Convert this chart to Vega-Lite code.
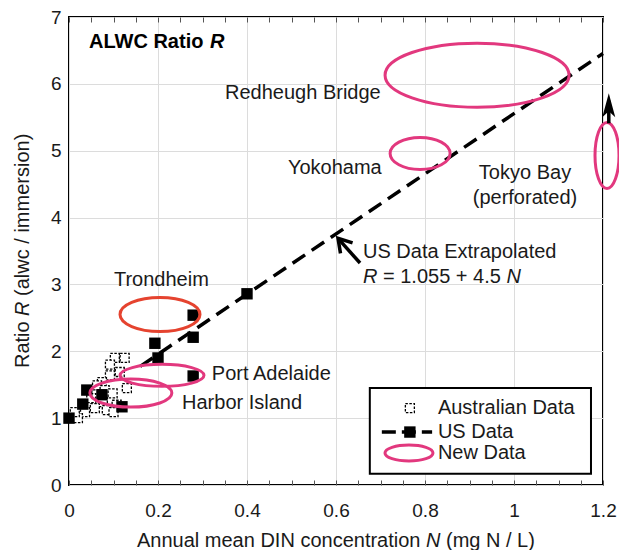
{
  "$schema": "https://vega.github.io/schema/vega-lite/v6.json",
  "width": 534,
  "height": 468,
  "autosize": {"type": "none"},
  "padding": {"left": 69, "top": 17, "right": 16, "bottom": 65},
  "background": "white",
  "config": {
    "view": {"stroke": "black", "strokeWidth": 2},
    "font": "Liberation Sans",
    "text": {"font": "Liberation Sans", "fontSize": 20, "color": "#1a1a1a"},
    "axis": {"labelFont": "Liberation Sans", "titleFont": "Liberation Sans", "labelColor": "#1a1a1a", "titleColor": "#1a1a1a", "titleFontWeight": "normal", "gridColor": "#dcdcdc", "gridWidth": 1}
  },
  "datasets": {
    "fit": [{"N": 0.16, "R": 1.775}, {"N": 1.2, "R": 6.455}],
    "aus": [
      {"N": 0.103, "R": 1.9}, {"N": 0.125, "R": 1.9}, {"N": 0.092, "R": 1.8}, {"N": 0.114, "R": 1.69},
      {"N": 0.092, "R": 1.64}, {"N": 0.074, "R": 1.54}, {"N": 0.063, "R": 1.49}, {"N": 0.13, "R": 1.45},
      {"N": 0.08, "R": 1.42}, {"N": 0.098, "R": 1.37}, {"N": 0.05, "R": 1.3}, {"N": 0.076, "R": 1.24},
      {"N": 0.107, "R": 1.2}, {"N": 0.058, "R": 1.15}, {"N": 0.085, "R": 1.12}, {"N": 0.036, "R": 1.09},
      {"N": 0.02, "R": 1.0}, {"N": 0.1, "R": 1.09}, {"N": 0.013, "R": 1.09}
    ],
    "us": [
      {"N": 0.0, "R": 1.0}, {"N": 0.031, "R": 1.21}, {"N": 0.04, "R": 1.42}, {"N": 0.074, "R": 1.35},
      {"N": 0.119, "R": 1.17}, {"N": 0.193, "R": 2.12}, {"N": 0.2, "R": 1.9}, {"N": 0.279, "R": 2.54},
      {"N": 0.279, "R": 2.21}, {"N": 0.279, "R": 1.63}, {"N": 0.4, "R": 2.86}
    ],
    "sites": [
      {"site": "Redheugh Bridge", "N": 0.917, "R": 6.13},
      {"site": "Yokohama", "N": 0.789, "R": 4.96},
      {"site": "Tokyo Bay", "N": 1.209, "R": 4.93},
      {"site": "Trondheim", "N": 0.2045, "R": 2.55},
      {"site": "Port Adelaide", "N": 0.209, "R": 1.64},
      {"site": "Harbor Island", "N": 0.139, "R": 1.375}
    ],
    "arrows": [
      {"N": 0.654, "R": 3.32, "N2": 0.607, "R2": 3.67},
      {"N": 1.213, "R": 5.41, "N2": 1.213, "R2": 5.75}
    ],
    "head1": [{"N": 0.6045, "R": 3.69}],
    "head2": [{"N": 1.213, "R": 5.86}],
    "labels": [
      {"t": "Redheugh Bridge", "N": 0.3506, "R": 5.86},
      {"t": "Yokohama", "N": 0.492, "R": 4.74},
      {"t": "US Data Extrapolated", "N": 0.6607, "R": 3.48},
      {"t": "= 1.055 + 4.5", "N": 0.7056, "R": 3.11},
      {"t": "Trondheim", "N": 0.101, "R": 3.06},
      {"t": "Port Adelaide", "N": 0.321, "R": 1.66},
      {"t": "Harbor Island", "N": 0.254, "R": 1.23},
      {"t": "Annual mean DIN concentration", "N": 0.1528, "R": -0.84},
      {"t": "(mg N / L)", "N": 0.8472, "R": -0.84}
    ],
    "centered": [
      {"t": "Tokyo Bay", "N": 1.0247, "R": 4.66},
      {"t": "(perforated)", "N": 1.0247, "R": 4.29}
    ],
    "italic": [
      {"t": "R", "N": 0.6607, "R": 3.11},
      {"t": "N", "N": 0.9829, "R": 3.11},
      {"t": "N", "N": 0.8022, "R": -0.84}
    ],
    "ytitle": [
      {"t": "Ratio", "N": -0.1034, "R": 1.749},
      {"t": "(alwc / immersion)", "N": -0.1034, "R": 2.828}
    ],
    "ytitleItalic": [
      {"t": "R", "N": -0.1034, "R": 2.529}
    ],
    "title": [{"t": "ALWC Ratio", "N": 0.0449, "R": 6.62}],
    "titleR": [{"t": "R", "N": 0.3169, "R": 6.62}],
    "legendBox": [{"N": 0.676, "N2": 1.173, "R": 0.17, "R2": 1.45}],
    "legAus": [{"N": 0.766, "R": 1.151}],
    "legUsLine": [{"N": 0.703, "N2": 0.816, "R": 0.792}],
    "legUsSq": [{"N": 0.766, "R": 0.792}],
    "legNew": [{"N": 0.764, "R": 0.478}],
    "legText": [
      {"t": "Australian Data", "N": 0.829, "R": 1.151},
      {"t": "US Data", "N": 0.829, "R": 0.792},
      {"t": "New Data", "N": 0.829, "R": 0.478}
    ]
  },
  "resolve": {"axis": {"x": "independent", "y": "independent"}},
  "layer": [
    {
      "data": {"name": "fit"},
      "mark": {"type": "line", "color": "black", "strokeWidth": 3.5, "strokeDash": [15, 8]},
      "encoding": {
        "x": {
          "field": "N", "type": "quantitative",
          "scale": {"domain": [0, 1.2], "nice": false, "zero": false},
          "axis": {
            "values": [0, 0.05, 0.1, 0.15, 0.2, 0.25, 0.3, 0.35, 0.4, 0.45, 0.5, 0.55, 0.6, 0.65, 0.7, 0.75, 0.8, 0.85, 0.9, 0.95, 1, 1.05, 1.1, 1.15, 1.2],
            "labelExpr": "abs(datum.value*5 - round(datum.value*5)) < 0.001 ? format(datum.value, '~g') : ''",
            "gridOpacity": {"condition": {"test": "abs(datum.value*5 - round(datum.value*5)) < 0.001", "value": 1}, "value": 0},
            "domain": false,
            "ticks": true, "tickSize": -5, "tickColor": "#555", "tickWidth": 1,
            "labelPadding": 21, "labelFontSize": 19, "labelFlush": false,
            "title": null
          }
        },
        "y": {
          "field": "R", "type": "quantitative",
          "scale": {"domain": [0, 7], "nice": false, "zero": false},
          "axis": {
            "values": [0, 1, 2, 3, 4, 5, 6, 7],
            "domain": false, "ticks": false,
            "labelPadding": 8, "labelFontSize": 19, "labelFlush": false,
            "title": null
          }
        }
      }
    },
    {
      "data": {"name": "fit"},
      "mark": {"type": "line", "opacity": 0},
      "encoding": {
        "x": {
          "field": "N", "type": "quantitative",
          "axis": {
            "orient": "top",
            "values": [0, 0.05, 0.1, 0.15, 0.2, 0.25, 0.3, 0.35, 0.4, 0.45, 0.5, 0.55, 0.6, 0.65, 0.7, 0.75, 0.8, 0.85, 0.9, 0.95, 1, 1.05, 1.1, 1.15, 1.2],
            "labels": false, "grid": false, "domain": false, "title": null,
            "ticks": true, "tickSize": -5, "tickColor": "#555", "tickWidth": 1
          }
        },
        "y": {"field": "R", "type": "quantitative", "axis": null}
      }
    },
    {
      "data": {"name": "aus"},
      "mark": {"type": "point", "shape": "square", "size": 81, "filled": true, "fill": "white", "fillOpacity": 1, "stroke": "black", "strokeWidth": 1.3, "strokeDash": [2.5, 1.5]},
      "encoding": {
        "x": {"field": "N", "type": "quantitative", "axis": null},
        "y": {"field": "R", "type": "quantitative", "axis": null}
      }
    },
    {
      "data": {"name": "us"},
      "mark": {"type": "point", "shape": "square", "size": 130, "filled": true, "color": "black", "opacity": 1},
      "encoding": {
        "x": {"field": "N", "type": "quantitative", "axis": null},
        "y": {"field": "R", "type": "quantitative", "axis": null}
      }
    },
    {
      "data": {"name": "sites"},
      "mark": {"type": "point", "filled": false, "size": 4, "strokeWidth": 3, "opacity": 1},
      "encoding": {
        "x": {"field": "N", "type": "quantitative", "axis": null},
        "y": {"field": "R", "type": "quantitative", "axis": null},
        "shape": {
          "field": "site", "type": "nominal", "legend": null,
          "scale": {
            "domain": ["Redheugh Bridge", "Yokohama", "Tokyo Bay", "Trondheim", "Port Adelaide", "Harbor Island"],
            "range": [
              "M-92,0A92,32,0,1,0,92,0A92,32,0,1,0,-92,0Z",
              "M-30,0A30,16,0,1,0,30,0A30,16,0,1,0,-30,0Z",
              "M-12,0A12,33,0,1,0,12,0A12,33,0,1,0,-12,0Z",
              "M-40,0A40,17,0,1,0,40,0A40,17,0,1,0,-40,0Z",
              "M-42,0A42,11,0,1,0,42,0A42,11,0,1,0,-42,0Z",
              "M-41,0A41,14,0,1,0,41,0A41,14,0,1,0,-41,0Z"
            ]
          }
        },
        "color": {
          "field": "site", "type": "nominal", "legend": null,
          "scale": {
            "domain": ["Redheugh Bridge", "Yokohama", "Tokyo Bay", "Trondheim", "Port Adelaide", "Harbor Island"],
            "range": ["#e2387e", "#e2387e", "#e2387e", "#e5432f", "#e2387e", "#e2387e"]
          }
        }
      }
    },
    {
      "data": {"name": "arrows"},
      "mark": {"type": "rule", "color": "black", "strokeWidth": 3.5},
      "encoding": {
        "x": {"field": "N", "type": "quantitative", "axis": null},
        "y": {"field": "R", "type": "quantitative", "axis": null},
        "x2": {"field": "N2"},
        "y2": {"field": "R2"}
      }
    },
    {
      "data": {"name": "head1"},
      "mark": {"type": "point", "shape": "M-8,13L0,0L8,13", "size": 4, "filled": false, "stroke": "black", "strokeWidth": 3.5, "angle": 319, "opacity": 1},
      "encoding": {
        "x": {"field": "N", "type": "quantitative", "axis": null},
        "y": {"field": "R", "type": "quantitative", "axis": null}
      }
    },
    {
      "data": {"name": "head2"},
      "mark": {"type": "point", "shape": "M0,0L6.5,24L0,18L-6.5,24Z", "size": 4, "filled": true, "color": "black", "opacity": 1},
      "encoding": {
        "x": {"field": "N", "type": "quantitative", "axis": null},
        "y": {"field": "R", "type": "quantitative", "axis": null}
      }
    },
    {
      "data": {"name": "labels"},
      "mark": {"type": "text", "align": "left", "baseline": "middle", "fontSize": 20},
      "encoding": {
        "x": {"field": "N", "type": "quantitative", "axis": null},
        "y": {"field": "R", "type": "quantitative", "axis": null},
        "text": {"field": "t"}
      }
    },
    {
      "data": {"name": "centered"},
      "mark": {"type": "text", "align": "center", "baseline": "middle", "fontSize": 20},
      "encoding": {
        "x": {"field": "N", "type": "quantitative", "axis": null},
        "y": {"field": "R", "type": "quantitative", "axis": null},
        "text": {"field": "t"}
      }
    },
    {
      "data": {"name": "italic"},
      "mark": {"type": "text", "align": "left", "baseline": "middle", "fontSize": 20, "fontStyle": "italic"},
      "encoding": {
        "x": {"field": "N", "type": "quantitative", "axis": null},
        "y": {"field": "R", "type": "quantitative", "axis": null},
        "text": {"field": "t"}
      }
    },
    {
      "data": {"name": "ytitle"},
      "mark": {"type": "text", "align": "left", "baseline": "middle", "fontSize": 20, "angle": 270},
      "encoding": {
        "x": {"field": "N", "type": "quantitative", "axis": null},
        "y": {"field": "R", "type": "quantitative", "axis": null},
        "text": {"field": "t"}
      }
    },
    {
      "data": {"name": "ytitleItalic"},
      "mark": {"type": "text", "align": "left", "baseline": "middle", "fontSize": 20, "angle": 270, "fontStyle": "italic"},
      "encoding": {
        "x": {"field": "N", "type": "quantitative", "axis": null},
        "y": {"field": "R", "type": "quantitative", "axis": null},
        "text": {"field": "t"}
      }
    },
    {
      "data": {"name": "title"},
      "mark": {"type": "text", "align": "left", "baseline": "middle", "fontSize": 20, "fontWeight": "bold", "color": "black"},
      "encoding": {
        "x": {"field": "N", "type": "quantitative", "axis": null},
        "y": {"field": "R", "type": "quantitative", "axis": null},
        "text": {"field": "t"}
      }
    },
    {
      "data": {"name": "titleR"},
      "mark": {"type": "text", "align": "left", "baseline": "middle", "fontSize": 20, "fontWeight": "bold", "fontStyle": "italic", "color": "black"},
      "encoding": {
        "x": {"field": "N", "type": "quantitative", "axis": null},
        "y": {"field": "R", "type": "quantitative", "axis": null},
        "text": {"field": "t"}
      }
    },
    {
      "data": {"name": "legendBox"},
      "mark": {"type": "rect", "fill": "white", "stroke": "black", "strokeWidth": 2},
      "encoding": {
        "x": {"field": "N", "type": "quantitative", "axis": null},
        "x2": {"field": "N2"},
        "y": {"field": "R", "type": "quantitative", "axis": null},
        "y2": {"field": "R2"}
      }
    },
    {
      "data": {"name": "legAus"},
      "mark": {"type": "point", "shape": "square", "size": 81, "filled": true, "fill": "white", "fillOpacity": 1, "stroke": "black", "strokeWidth": 1.3, "strokeDash": [2.5, 1.5]},
      "encoding": {
        "x": {"field": "N", "type": "quantitative", "axis": null},
        "y": {"field": "R", "type": "quantitative", "axis": null}
      }
    },
    {
      "data": {"name": "legUsLine"},
      "mark": {"type": "rule", "color": "black", "strokeWidth": 3.5, "strokeDash": [14, 6]},
      "encoding": {
        "x": {"field": "N", "type": "quantitative", "axis": null},
        "x2": {"field": "N2"},
        "y": {"field": "R", "type": "quantitative", "axis": null}
      }
    },
    {
      "data": {"name": "legUsSq"},
      "mark": {"type": "point", "shape": "square", "size": 130, "filled": true, "color": "black", "opacity": 1},
      "encoding": {
        "x": {"field": "N", "type": "quantitative", "axis": null},
        "y": {"field": "R", "type": "quantitative", "axis": null}
      }
    },
    {
      "data": {"name": "legNew"},
      "mark": {"type": "point", "shape": "M-24,0A24,8,0,1,0,24,0A24,8,0,1,0,-24,0Z", "size": 4, "filled": false, "stroke": "#e2387e", "strokeWidth": 3, "opacity": 1},
      "encoding": {
        "x": {"field": "N", "type": "quantitative", "axis": null},
        "y": {"field": "R", "type": "quantitative", "axis": null}
      }
    },
    {
      "data": {"name": "legText"},
      "mark": {"type": "text", "align": "left", "baseline": "middle", "fontSize": 20},
      "encoding": {
        "x": {"field": "N", "type": "quantitative", "axis": null},
        "y": {"field": "R", "type": "quantitative", "axis": null},
        "text": {"field": "t"}
      }
    }
  ]
}
